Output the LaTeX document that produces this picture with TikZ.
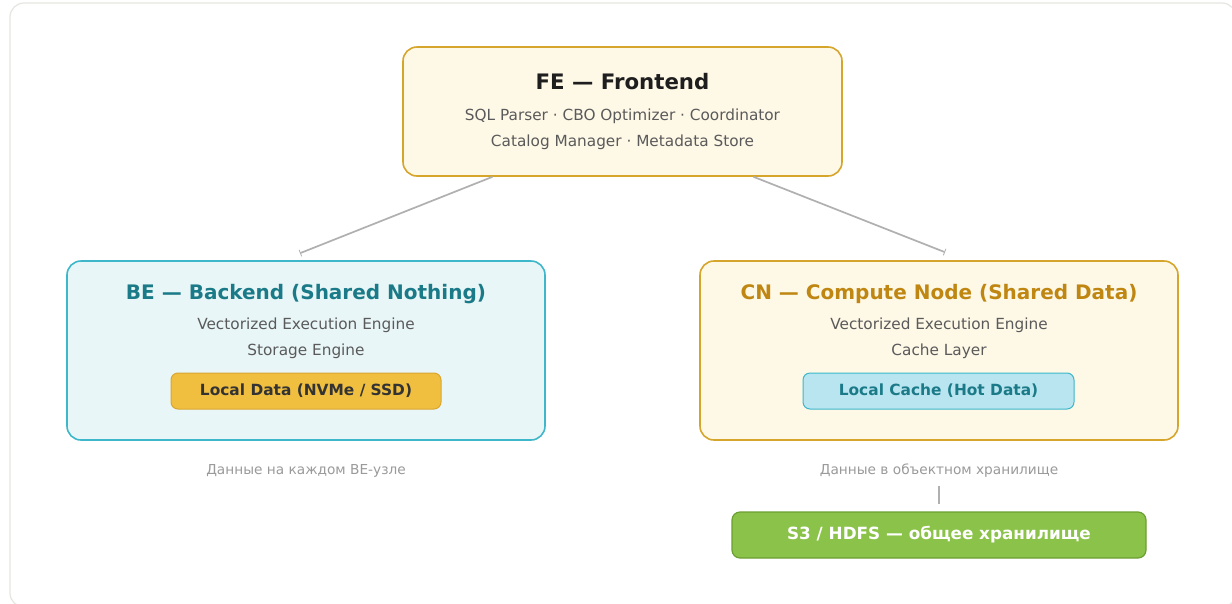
\documentclass[tikz,border=0pt]{standalone}
\usepackage{fontspec}
\setmainfont{DejaVu Sans}
\usetikzlibrary{arrows.meta,calc}
\definecolor{framec}{HTML}{E6E6E0}
\definecolor{goldb}{HTML}{D6A52C}
\definecolor{creamf}{HTML}{FEF8E7}
\definecolor{tealb}{HTML}{3DB7C9}
\definecolor{tealf}{HTML}{E8F6F7}
\definecolor{tealt}{HTML}{1B7A88}
\definecolor{goldt}{HTML}{BF8712}
\definecolor{bodyt}{HTML}{5A5A5A}
\definecolor{capt}{HTML}{9A9A9A}
\definecolor{linec}{HTML}{B0B0B0}
\definecolor{yellf}{HTML}{F0BF40}
\definecolor{yellb}{HTML}{D9A630}
\definecolor{cyanf}{HTML}{B8E5F0}
\definecolor{greenf}{HTML}{8BC34A}
\definecolor{greenb}{HTML}{6C9F32}
\definecolor{darkt}{HTML}{333333}
\definecolor{blackt}{HTML}{1E1E1E}
\begin{document}
\begin{tikzpicture}[x=1pt,y=-1pt,
  box/.style={draw, line width=1.6pt, rounded corners=14pt, inner sep=0pt},
  chip/.style={draw, line width=1pt, rounded corners=7pt, inner sep=0pt,
    font=\fontsize{15.4}{18}\selectfont\bfseries},
  bigtitle/.style={anchor=base, inner sep=0pt, font=\fontsize{21.3}{25}\selectfont\bfseries},
  subtitle/.style={anchor=base, inner sep=0pt, font=\fontsize{20}{24}\selectfont\bfseries},
  bodytext/.style={anchor=base, inner sep=0pt, text=bodyt, font=\fontsize{15.3}{18}\selectfont},
  captext/.style={anchor=base, inner sep=0pt, text=capt, font=\fontsize{13.7}{16}\selectfont},
  conn/.style={draw=linec, line width=1.7pt, -{Bar[width=7pt,line width=0.8pt]}},
]
\useasboundingbox (0,0) rectangle (1232,603);
\fill[white] (0,0) rectangle (1232,603);
\draw[framec, line width=1.2pt, rounded corners=14pt] (10,3) rectangle (1236,607);

% FE
\node[box, draw=goldb, fill=creamf, minimum width=439pt, minimum height=129pt] (fe) at (622.5,111.5) {};
\node[bigtitle, text=blackt] (fet) at (622.5,89) {FE — Frontend};
\node[bodytext] (fe1) at (622.5,120) {SQL Parser · CBO Optimizer · Coordinator};
\node[bodytext] (fe2) at (622.5,146) {Catalog Manager · Metadata Store};

% BE
\node[box, draw=tealb, fill=tealf, minimum width=478pt, minimum height=179pt] (be) at (306,350.5) {};
\node[subtitle, text=tealt] (bet) at (306,299) {BE — Backend (Shared Nothing)};
\node[bodytext] (be1) at (306,329) {Vectorized Execution Engine};
\node[bodytext] (be2) at (306,355) {Storage Engine};
\node[chip, draw=yellb, fill=yellf, text=darkt, minimum width=270pt, minimum height=36pt] (bed) at (306,391) {Local Data (NVMe / SSD)};
\node[captext] (becap) at (306,474) {Данные на каждом BE-узле};

% CN
\node[box, draw=goldb, fill=creamf, minimum width=478pt, minimum height=179pt] (cn) at (939,350.5) {};
\node[subtitle, text=goldt] (cnt) at (939,299) {CN — Compute Node (Shared Data)};
\node[bodytext] (cn1) at (939,329) {Vectorized Execution Engine};
\node[bodytext] (cn2) at (939,355) {Cache Layer};
\node[chip, draw=tealb, fill=cyanf, text=tealt, minimum width=271pt, minimum height=36pt] (cnc) at (938.5,391) {Local Cache (Hot Data)};
\node[captext] (cncap) at (939,474) {Данные в объектном хранилище};

% S3
\node[chip, rounded corners=8pt, line width=1.2pt, draw=greenb, fill=greenf, text=white, minimum width=414pt, minimum height=46pt, font=\fontsize{16.8}{20}\selectfont\bfseries] (s3) at (939,535) {S3 / HDFS — общее хранилище};

% connectors
\coordinate (feL) at ($(fe.south west)!0.2050!(fe.south east)$);
\coordinate (feR) at ($(fe.south west)!0.7973!(fe.south east)$);
\draw[conn] (feL) -- ([xshift=-6pt,yshift=7pt]be.north);
\draw[conn] (feR) -- ([xshift=6pt,yshift=8pt]cn.north);
\draw[draw=linec, line width=1.5pt] ([yshift=-12pt]cncap.base) -- ([yshift=7pt]s3.north);
\end{tikzpicture}
\end{document}
